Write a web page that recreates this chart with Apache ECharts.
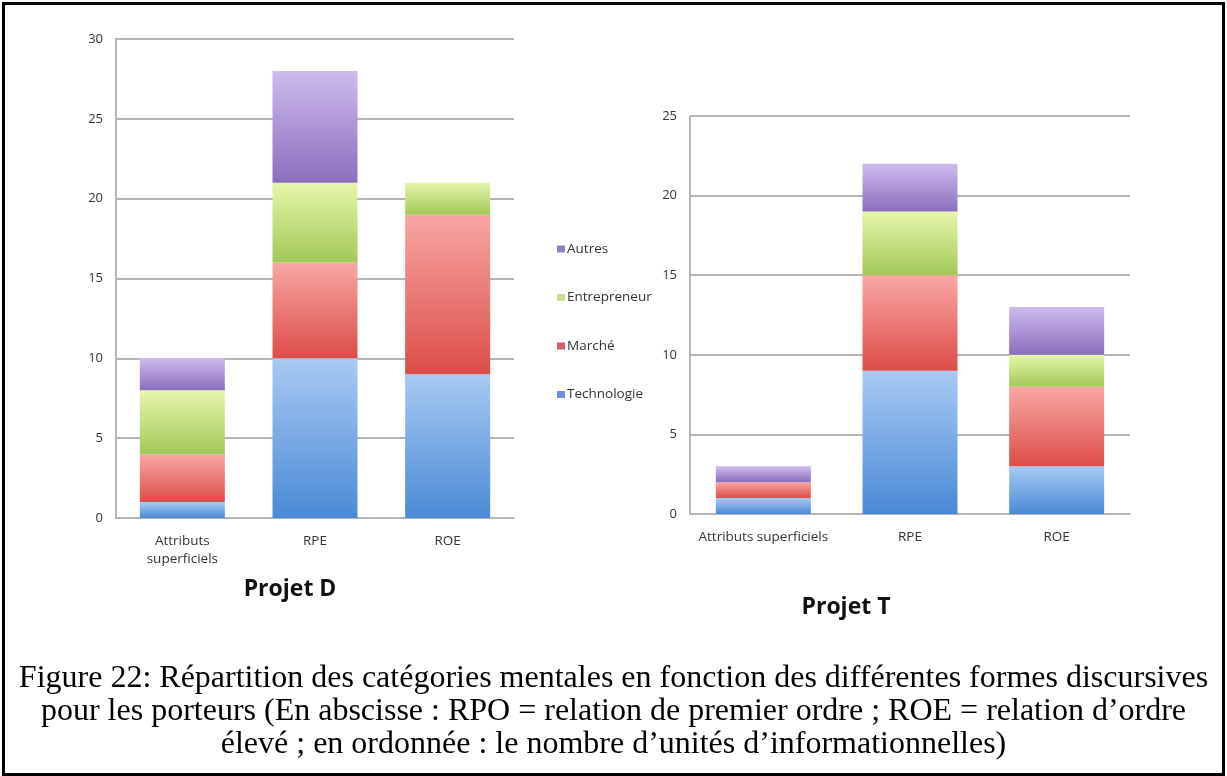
<!DOCTYPE html>
<html>
<head>
<meta charset="utf-8">
<script src="https://cdn.jsdelivr.net/npm/echarts@6/dist/echarts.min.js"></script>
<style>
  html, body { margin: 0; padding: 0; background: #fff; }
  .frame {
    position: absolute; left: 2px; top: 2px; width: 1217px; height: 768px;
    border: 3px solid #000;
  }
  #chart { position: absolute; left: 0; top: 0; width: 1227px; height: 776px; }
  .caption {
    position: absolute; left: 0; top: 660px; width: 1227px;
    text-align: center; font-family: "Liberation Serif", serif;
    font-size: 32px; line-height: 33px; color: #000;
  }
</style>
</head>
<body>
<div class="frame"></div>
<div id="chart"></div>
<div class="caption">Figure 22: Répartition des catégories mentales en fonction des différentes formes discursives<br>pour les porteurs (En abscisse : RPO = relation de premier ordre ; ROE = relation d’ordre<br>élevé ; en ordonnée : le nombre d’unités d’informationnelles)</div>
<script>
// categories
const categoriesD = ['Attributs\nsuperficiels', 'RPE', 'ROE']
const categoriesT = ['Attributs superficiels', 'RPE', 'ROE']
const seriesNames = ['Technologie', 'Marché', 'Entrepreneur', 'Autres']

// Projet D values
const technologieD = [1, 10, 9]
const marcheD = [3, 6, 10]
const entrepreneurD = [4, 5, 2]
const autresD = [2, 7, 0]

// Projet T values
const technologieT = [1, 9, 3]
const marcheT = [1, 6, 5]
const entrepreneurT = [0, 4, 2]
const autresT = [1, 3, 3]

const yTicksD = { min: 0, max: 30, interval: 5 }
const yTicksT = { min: 0, max: 25, interval: 5 }

const gradients = {
  Technologie: ['#a8caf3', '#4a89d5'],
  Marché: ['#f8a7a4', '#dc4d48'],
  Entrepreneur: ['#e6f6ab', '#a2c858'],
  Autres: ['#cfbbee', '#8a6ebd']
}
const legendColors = {
  Autres: '#8b83c0',
  Entrepreneur: '#c6df8e',
  Marché: '#d75d6b',
  Technologie: '#7090d8'
}

const grad = name => new echarts.graphic.LinearGradient(0, 0, 0, 1, [
  { offset: 0, color: gradients[name][0] },
  { offset: 1, color: gradients[name][1] }
])

const dataD = [technologieD, marcheD, entrepreneurD, autresD]
const dataT = [technologieT, marcheT, entrepreneurT, autresT]

const series = []
seriesNames.forEach((name, i) => {
  series.push({
    name: name, type: 'bar', stack: 'D', xAxisIndex: 0, yAxisIndex: 0,
    barWidth: 85, data: dataD[i], itemStyle: { color: grad(name) }
  })
  series.push({
    name: name, type: 'bar', stack: 'T', xAxisIndex: 1, yAxisIndex: 1,
    barWidth: 95, data: dataT[i], itemStyle: { color: grad(name) }
  })
})

const axisColor = '#b5b5b5'
const labelStyle = { color: '#333', fontFamily: 'Open Sans', fontSize: 13.5 }

const makeX = (gridIndex, data) => ({
  type: 'category', gridIndex: gridIndex, data: data,
  axisLine: { lineStyle: { color: axisColor, width: 2 } },
  axisTick: { show: false },
  axisLabel: Object.assign({ margin: 14, lineHeight: 18, interval: 0, hideOverlap: false }, labelStyle)
})
const makeY = (gridIndex, ticks) => ({
  type: 'value', gridIndex: gridIndex,
  min: ticks.min, max: ticks.max, interval: ticks.interval,
  axisLine: { show: true, lineStyle: { color: axisColor, width: 2 } },
  axisTick: { show: false },
  splitLine: { lineStyle: { color: axisColor, width: 2 } },
  axisLabel: Object.assign({ margin: 13 }, labelStyle, { fontSize: 13 })
})

const titleStyle = { fontFamily: 'Open Sans', fontWeight: 'bold', fontSize: 23, color: '#111' }

const chart = echarts.init(document.getElementById('chart'))
chart.setOption({
  animation: false,
  title: [
    { text: 'Projet D', left: 285, top: 573, textAlign: 'center', textStyle: titleStyle },
    { text: 'Projet T', left: 841, top: 591, textAlign: 'center', textStyle: titleStyle }
  ],
  legend: {
    orient: 'vertical', left: 552, top: 237,
    itemWidth: 8, itemHeight: 7, itemGap: 34.5,
    textStyle: { fontFamily: 'Open Sans', fontSize: 13.5, color: '#333', padding: [0, 0, 0, -3] },
    data: ['Autres', 'Entrepreneur', 'Marché', 'Technologie'].map(n => ({
      name: n, icon: 'rect', itemStyle: { color: legendColors[n] }
    }))
  },
  grid: [
    { left: 116, top: 39, width: 398, height: 479 },
    { left: 690, top: 116, width: 440, height: 398 }
  ],
  xAxis: [makeX(0, categoriesD), makeX(1, categoriesT)],
  yAxis: [makeY(0, yTicksD), makeY(1, yTicksT)],
  series: series
})
</script>
</body>
</html>
